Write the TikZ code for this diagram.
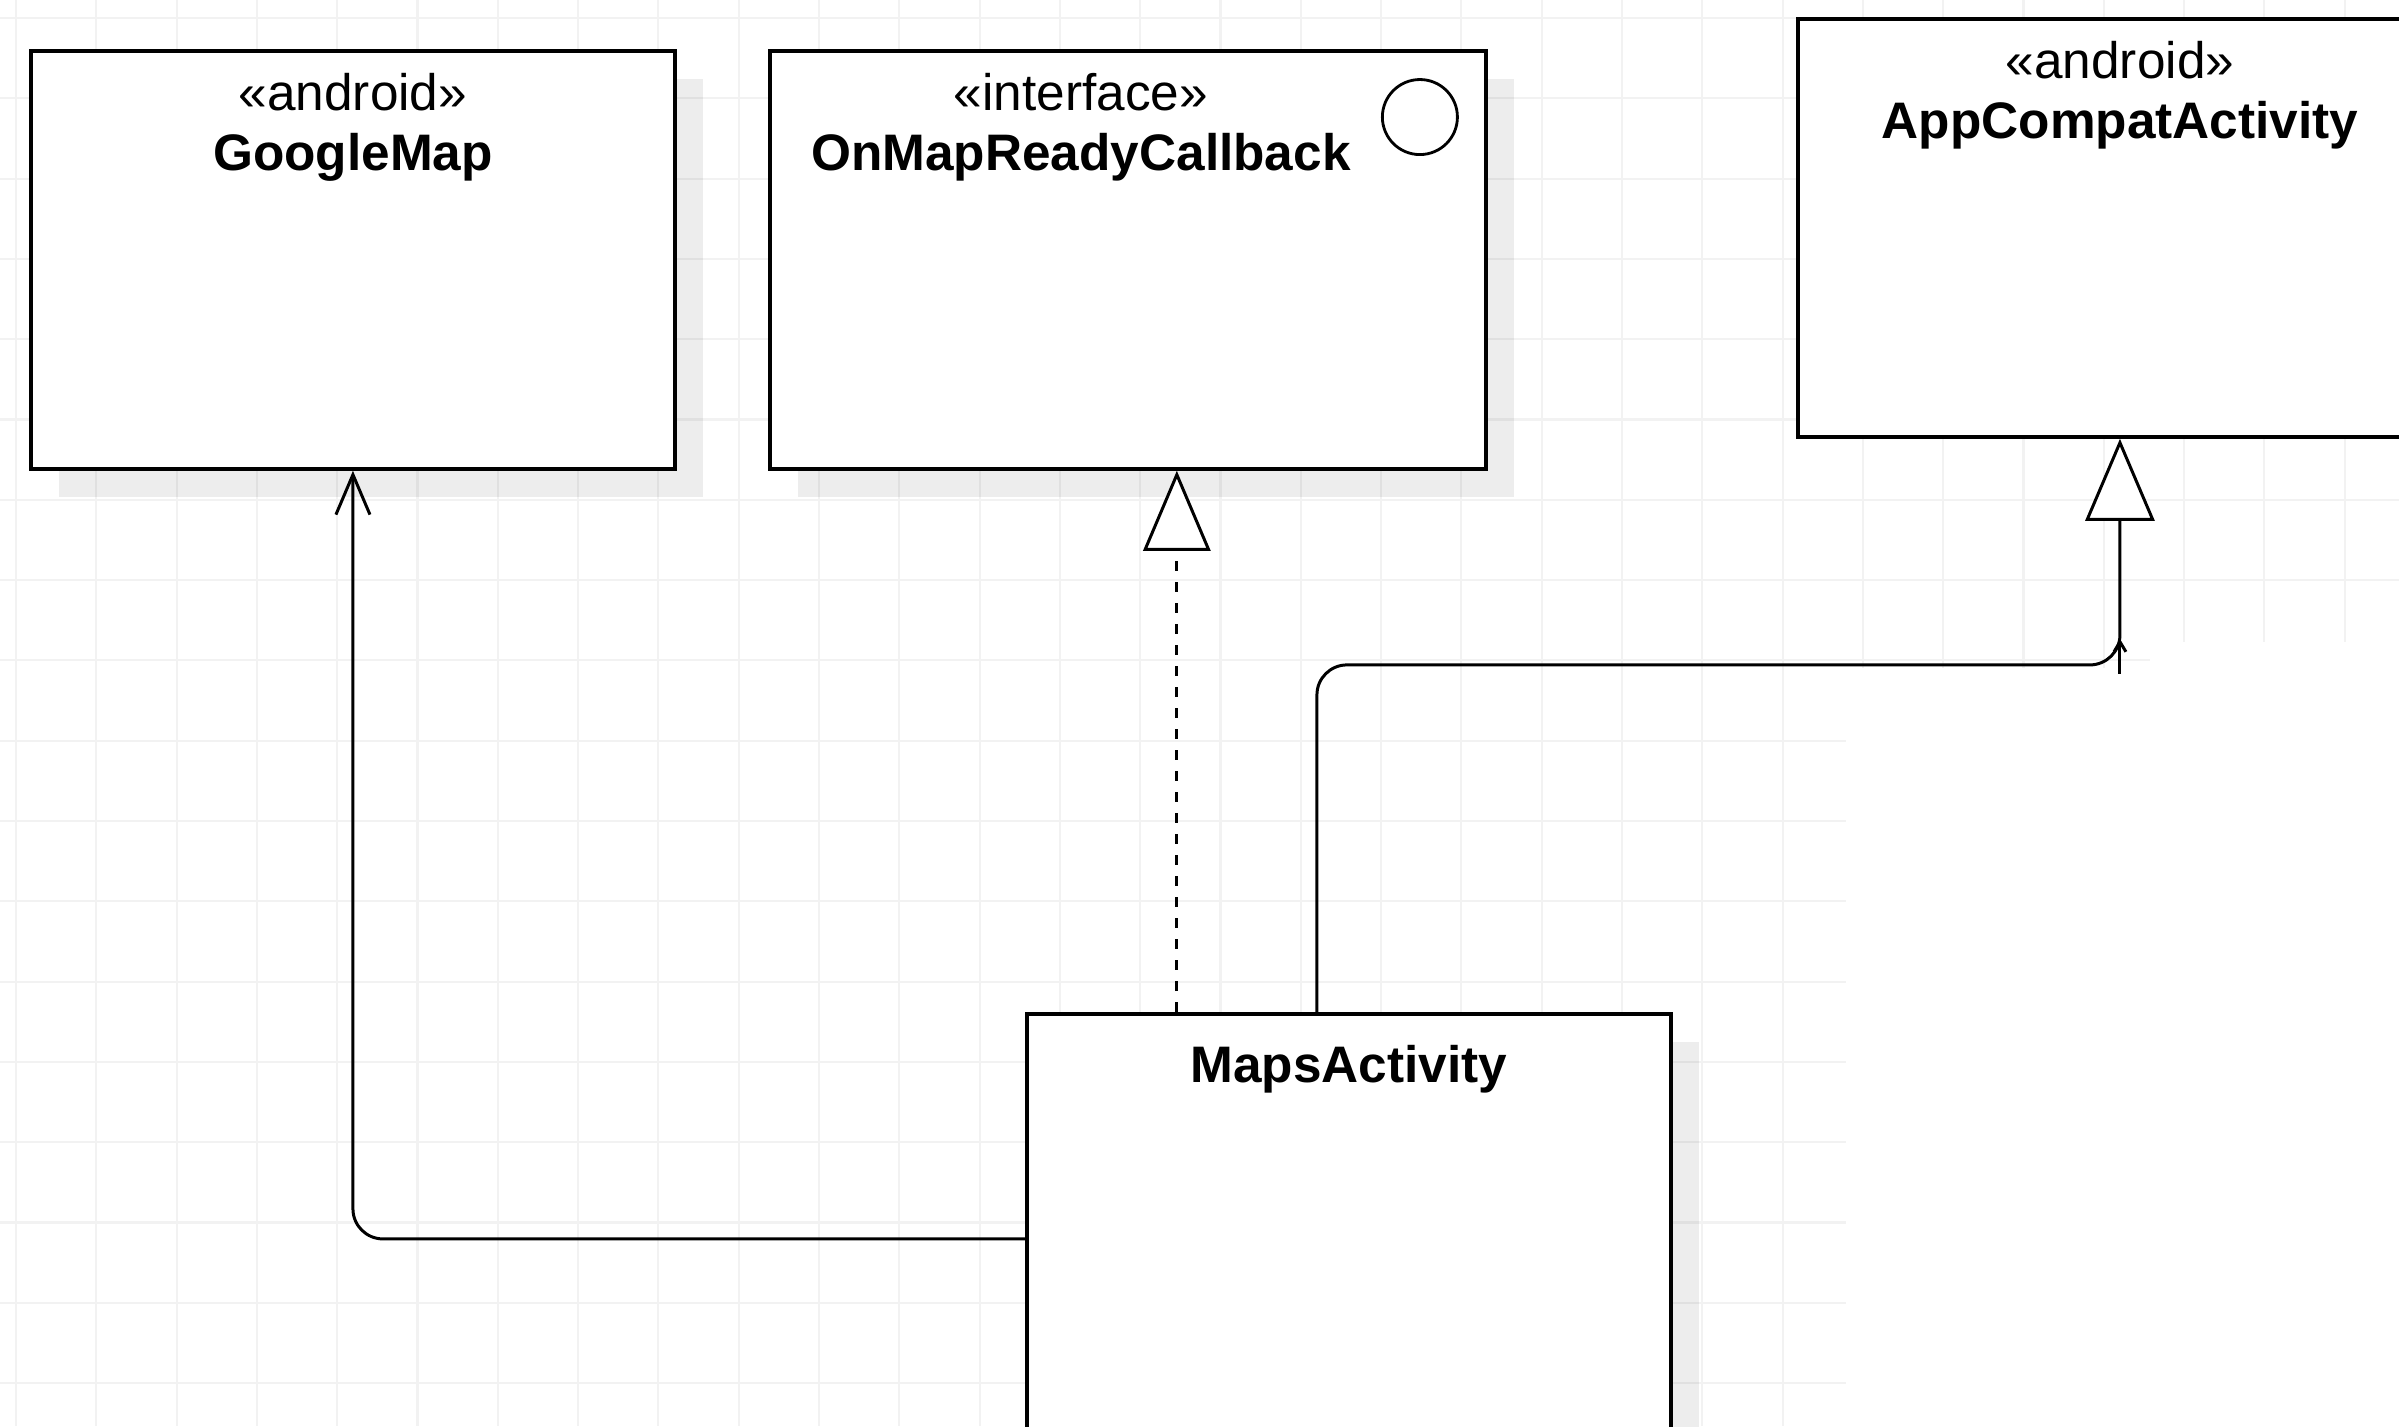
\documentclass[tikz,border=0pt]{standalone}
\usepackage{fontspec}
\setmainfont{Liberation Sans}
\usepackage{xcolor}
\usepackage{tikz}
\usetikzlibrary{
  arrows.meta,
  shadows
}
\definecolor{GridGray}{HTML}{F2F2F2}
\definecolor{UmlBlack}{HTML}{000000}

\tikzset{
  plainbox/.style={draw=UmlBlack, fill=white, line width=1pt, anchor=north west,
    inner sep=0pt, minimum width=6.44cm, minimum height=4.18cm},
  classbox/.style={plainbox,
    drop shadow={shadow xshift=0.28cm, shadow yshift=-0.28cm, fill=black, opacity=0.07}},
  stereotext/.style={anchor=base, inner sep=0pt, font=\fontsize{14.6}{17}\selectfont},
  nametext/.style={stereotext, font=\fontsize{14.6}{17}\selectfont\bfseries},
  conn/.style={draw=UmlBlack, line width=0.85pt},
  assoc/.style={conn, rounded corners=0.3cm, -{Straight Barb[length=0.4cm, width=0.34cm]}},
  realize/.style={conn, dash pattern=on 0.1cm off 0.11cm,
    -{Triangle[fill=white, length=0.8cm, width=0.67cm]}},
  inherit/.style={conn, rounded corners=0.3cm,
    -{Triangle[fill=white, length=0.82cm, width=0.69cm]}}
}

\begin{document}
\begin{tikzpicture}[x=0.01cm, y=-0.01cm]
  \useasboundingbox (0,0) rectangle (2399,1426);
  \clip (0,0) rectangle (2399,1426);

  % canvas grid
  \foreach \gx in {0,...,29}
    \draw[GridGray, line width=0.6pt] ({16+80.3*\gx},0) -- ({16+80.3*\gx},1426);
  \foreach \gy in {0,...,17}
    \draw[GridGray, line width=0.6pt] (0,{18+80.3*\gy}) -- (2399,{18+80.3*\gy});
  \fill[white] (1846,668) rectangle (2399,1426);
  \fill[white] (2150,642) rectangle (2399,668);

  % classes
  \node[classbox] (gmap) at (29,49) {};
  \node[stereotext] (gmapstereo) at ([yshift=-0.61cm]gmap.north) {«android»};
  \node[nametext] (gmapname) at ([yshift=-1.21cm]gmap.north) {GoogleMap};

  \node[classbox, minimum width=7.16cm] (cbk) at (768,49) {};
  \node[stereotext] (cbkstereo) at ([xshift=-0.47cm, yshift=-0.61cm]cbk.north) {«interface»};
  \node[nametext] (cbkname) at ([xshift=-0.47cm, yshift=-1.21cm]cbk.north) {OnMapReadyCallback};
  \node[circle, draw=UmlBlack, line width=0.8pt, minimum size=0.75cm, inner sep=0pt]
    (cbkicon) at ([xshift=-0.68cm, yshift=-0.68cm]cbk.north east) {};

  \node[plainbox] (appc) at (1796,17) {};
  \node[stereotext] (appcstereo) at ([yshift=-0.61cm]appc.north) {«android»};
  \node[nametext] (appcname) at ([yshift=-1.21cm]appc.north) {AppCompatActivity};

  \node[classbox, minimum height=4.5cm] (maps) at (1025,1012) {};
  \node[nametext] (mapsname) at ([yshift=-0.70cm]maps.north) {MapsActivity};

  % relations
  \draw[assoc] (maps.west) -| (gmap.south);
  \draw[realize] ([xshift=-1.72cm]maps.north) -- ([xshift=-1.72cm]maps.north |- cbk.south);
  \draw[inherit] ([xshift=-0.32cm]maps.north) |- ([yshift=-2.26cm]appc.south) -- (appc.south);
  \coordinate (stub) at ([yshift=-2.35cm]appc.south);
  \draw[conn, -{Straight Barb[length=0.1cm, width=0.12cm]}] (stub) -- ([yshift=-2.0cm]appc.south);
\end{tikzpicture}
\end{document}
